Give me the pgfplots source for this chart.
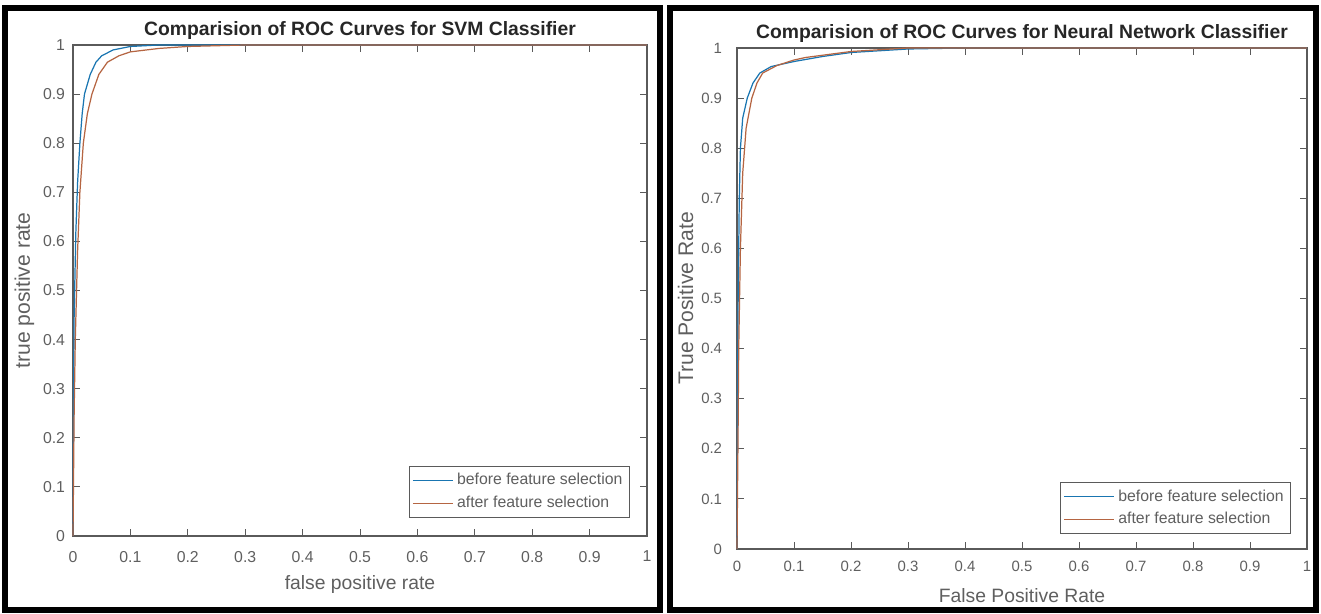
\documentclass[border=0pt]{standalone}
\usepackage{pgfplots}
\pgfplotsset{compat=1.18}
\usepackage{fontspec}
\setmainfont{Liberation Sans}
\definecolor{mblue}{RGB}{0,114,189}
\definecolor{morange}{RGB}{217,83,25}
\definecolor{axgray}{RGB}{90,90,90}
\definecolor{txtgray}{RGB}{95,95,95}

\pgfplotsset{
  rocstyle/.style={
    scale only axis,
    xmin=0, xmax=1, ymin=0, ymax=1,
    xtick={0,0.1,...,1}, ytick={0,0.1,...,1},
    xticklabels={0,0.1,0.2,0.3,0.4,0.5,0.6,0.7,0.8,0.9,1},
    yticklabels={0,0.1,0.2,0.3,0.4,0.5,0.6,0.7,0.8,0.9,1},
    tick align=inside, tick pos=both,
    major tick length=4pt,
    axis line style={axgray, line width=0.6pt},
    every tick/.style={axgray, line width=0.5pt},
    /pgf/number format/assume math mode=true,
    tick label style={txtgray},
    title style={at={(0.5,1)}, anchor=base, font=\fontsize{11}{13}\selectfont\bfseries, text=black!85},
    xlabel style={at={(axis description cs:0.5,0)}, anchor=base, font=\fontsize{11}{13}\selectfont, text=txtgray},
    ylabel style={anchor=base, font=\fontsize{12}{14}\selectfont, text=txtgray},
    legend style={draw=axgray, font=\fontsize{9}{11}\selectfont, text=txtgray,
      inner sep=2pt, row sep=1pt},
    legend cell align=left,
    clip=false,
  },
}

\begin{document}
\begin{tikzpicture}
\path[use as bounding box] (0,0) rectangle (26.42,12.28);
\draw[line width=0.12cm] (0.10,12.12) rectangle (13.20,0.08);
\draw[line width=0.12cm] (13.40,12.12) rectangle (26.32,0.08);

% SVM classifier
\begin{axis}[
  rocstyle,
  at={(1.46cm,1.56cm)}, anchor=south west,
  width=11.48cm, height=9.82cm,
  title={Comparision of ROC Curves for SVM Classifier},
  title style={yshift=-0.6pt},
  xlabel={false positive rate},
  xlabel style={yshift=-30.6pt},
  ylabel={true positive rate},
  ylabel style={at={(axis description cs:-0.075,0.5)}},
  xticklabel style={font=\fontsize{9}{11}\selectfont, yshift=-5pt},
  yticklabel style={font=\fontsize{9}{11}\selectfont, xshift=-1pt},
  legend style={at={(axis description cs:0.970,0.037)}, anchor=south east},
  legend image code/.code={\draw[#1] (0cm,0cm) -- (0.8cm,0cm);},
]
\addplot[mblue!80!gray, line width=0.7pt] coordinates {
  (0,0) (0.001,0.3) (0.002,0.45) (0.005,0.62) (0.008,0.72) (0.012,0.8)
  (0.016,0.86) (0.02,0.9) (0.03,0.94) (0.04,0.965) (0.05,0.978)
  (0.07,0.99) (0.1,0.997) (0.15,1) (1,1)
};
\addlegendentry{before feature selection}
\addplot[morange!60!gray, line width=0.7pt] coordinates {
  (0,0) (0.002,0.25) (0.004,0.4) (0.008,0.58) (0.012,0.7) (0.018,0.8)
  (0.025,0.86) (0.033,0.9) (0.045,0.94) (0.06,0.965) (0.08,0.978)
  (0.1,0.986) (0.15,0.993) (0.2,0.997) (0.3,1) (1,1)
};
\addlegendentry{after feature selection}
\end{axis}

% Neural network classifier
\begin{axis}[
  rocstyle,
  at={(14.74cm,1.30cm)}, anchor=south west,
  width=11.4cm, height=10.02cm,
  title={Comparision of ROC Curves for Neural Network Classifier},
  title style={yshift=-0.5pt},
  xlabel={False Positive Rate},
  xlabel style={yshift=-30.6pt},
  ylabel={True Positive Rate},
  ylabel style={at={(axis description cs:-0.0772,0.5)}},
  xticklabel style={font=\fontsize{8.5}{10}\selectfont, yshift=-3.5pt},
  yticklabel style={font=\fontsize{8.5}{10}\selectfont, xshift=-5pt},
  legend style={at={(axis description cs:0.972,0.030)}, anchor=south east},
  legend image code/.code={\draw[#1] (0cm,0cm) -- (1.0cm,0cm);},
]
\addplot[mblue!80!gray, line width=0.7pt] coordinates {
  (0,0) (0.001,0.3) (0.002,0.5) (0.004,0.7) (0.006,0.8) (0.01,0.86)
  (0.018,0.9) (0.028,0.93) (0.04,0.95) (0.06,0.963) (0.1,0.973)
  (0.15,0.983) (0.2,0.991) (0.3,0.998) (0.4,1) (1,1)
};
\addlegendentry{before feature selection}
\addplot[morange!60!gray, line width=0.7pt] coordinates {
  (0,0) (0.002,0.25) (0.003,0.4) (0.006,0.6) (0.01,0.75) (0.016,0.84)
  (0.026,0.9) (0.035,0.93) (0.045,0.95) (0.07,0.965) (0.1,0.976)
  (0.12,0.981) (0.2,0.993) (0.3,1) (1,1)
};
\addlegendentry{after feature selection}
\end{axis}
\end{tikzpicture}
\end{document}
